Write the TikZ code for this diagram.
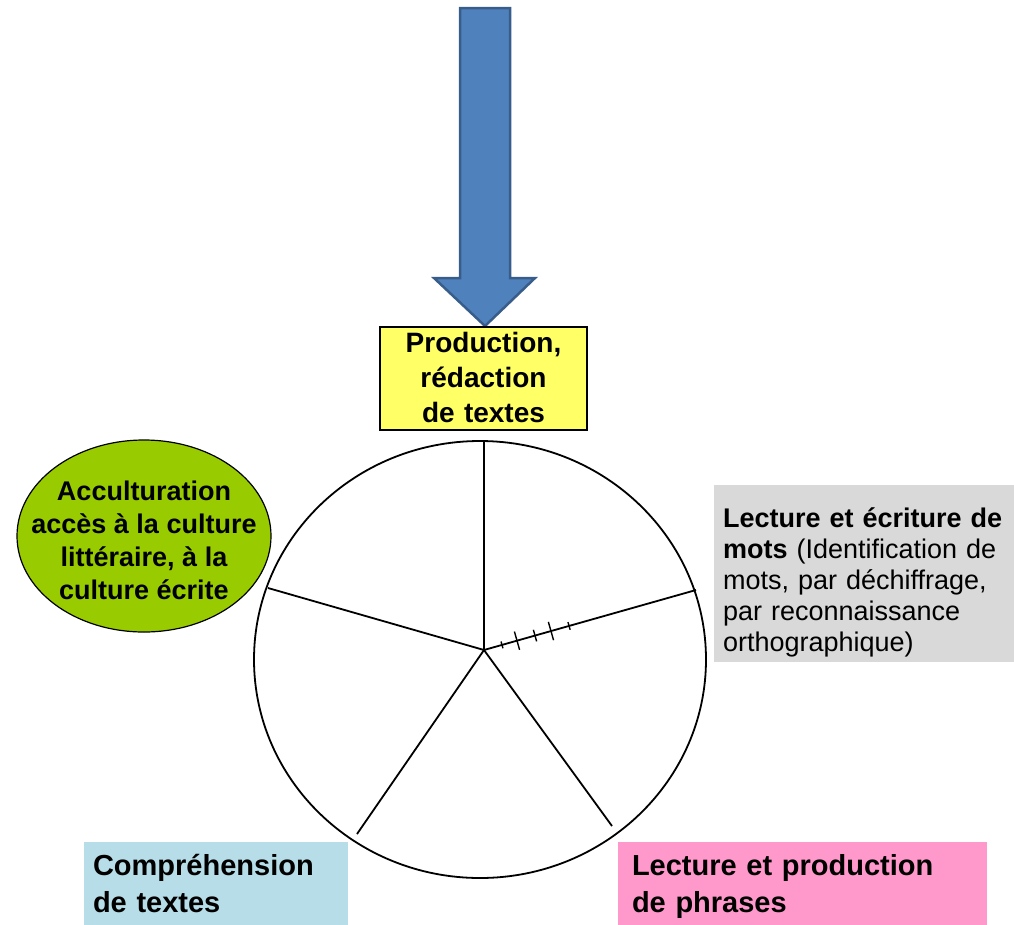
\documentclass[tikz,border=0pt]{standalone}
\usepackage{fontspec}
\setmainfont{Liberation Sans}
\usepackage{xcolor}
\usepackage{tikz}
\usetikzlibrary{calc}
\definecolor{WheelBlue}{HTML}{4F81BD}
\definecolor{WheelBlueEdge}{HTML}{385D8A}
\definecolor{WheelYellow}{HTML}{FFFF66}
\definecolor{WheelGreen}{HTML}{99CC00}
\definecolor{WheelGrey}{HTML}{D9D9D9}
\definecolor{WheelCyan}{HTML}{B7DEE8}
\definecolor{WheelPink}{HTML}{FF99CC}
\newcommand{\rimbox}[6]{%
  \node[fill=#1,inner ysep=0pt,outer sep=0pt,align=left,anchor=base west,
        font=\fontsize{#4}{#5}\selectfont,#6] (#2) {#3};%
}

\begin{document}
\begin{tikzpicture}[x=1pt,y=-1pt]
    \useasboundingbox (0,0) rectangle (1014,924);
    % arrow
    \draw[WheelBlueEdge,fill=WheelBlue,line width=2.5pt,line join=miter]
      (460,8) -- (510,8) -- (510,278) -- (535,278) -- (485,326) -- (434,278) -- (460,278) -- cycle;
    % wheel
    \coordinate (wheel) at (480,659.5);
    \coordinate (hub) at (484,650);
    \coordinate (rimN) at (484,441);
    \coordinate (rimE) at (696,590);
    \coordinate (rimSE) at (612,826);
    \coordinate (rimSW) at (357,834);
    \coordinate (rimW) at (268,588);
    \draw[line width=1.8pt] (wheel) ellipse [x radius=226,y radius=218.5];
    \foreach \rim in {rimN,rimE,rimSE,rimSW,rimW}
      \draw[line width=1.8pt] (hub) -- (\rim);
    \foreach \d/\h in {18.7/3.5,34.3/9.5,53/6,69.6/9.5,88.4/4}
      \draw[line width=1.4pt] ($(hub)!\d pt!(rimE)!\h pt!90:(rimE)$) -- ($(hub)!\d pt!(rimE)!\h pt!-90:(rimE)$);
    % labels
    \node[fill=WheelYellow,draw=black,line width=2pt,text width=190pt,inner xsep=8.5pt,inner ysep=0pt,
          align=center,text height=25pt,text depth=78pt,anchor=base,
          font=\bfseries\fontsize{28}{35}\selectfont] (prod) at (483.5,352) {Production,\\rédaction\\de textes};
    \coordinate (accpos) at (144,536);
    \draw[fill=WheelGreen,line width=1.2pt] (accpos) ellipse [x radius=127,y radius=96];
    \node[align=center,font=\bfseries\fontsize{27}{33}\selectfont] (accult) at (144,540)
      {Acculturation\\accès à la culture\\littéraire, à la\\culture écrite};
    \rimbox{WheelGrey}{mots}{\textbf{Lecture et écriture de}\\\textbf{mots} (Identification de\\mots, par déchiffrage,\\par reconnaissance\\orthographique)}{27}{31}{text width=300pt,inner xsep=9pt,text height=42pt,text depth=135pt,at={(714,527)}}
    \rimbox{WheelCyan}{compr}{\bfseries Compréhension\\de textes}{29}{37}{text width=246pt,inner xsep=9pt,text height=33pt,text depth=60pt,at={(84,875)}}
    \rimbox{WheelPink}{phrases}{\bfseries Lecture et production\\de phrases}{29}{37}{text width=341pt,inner xsep=14pt,text height=33pt,text depth=60pt,at={(618,875)}}
  \end{tikzpicture}
\end{document}
